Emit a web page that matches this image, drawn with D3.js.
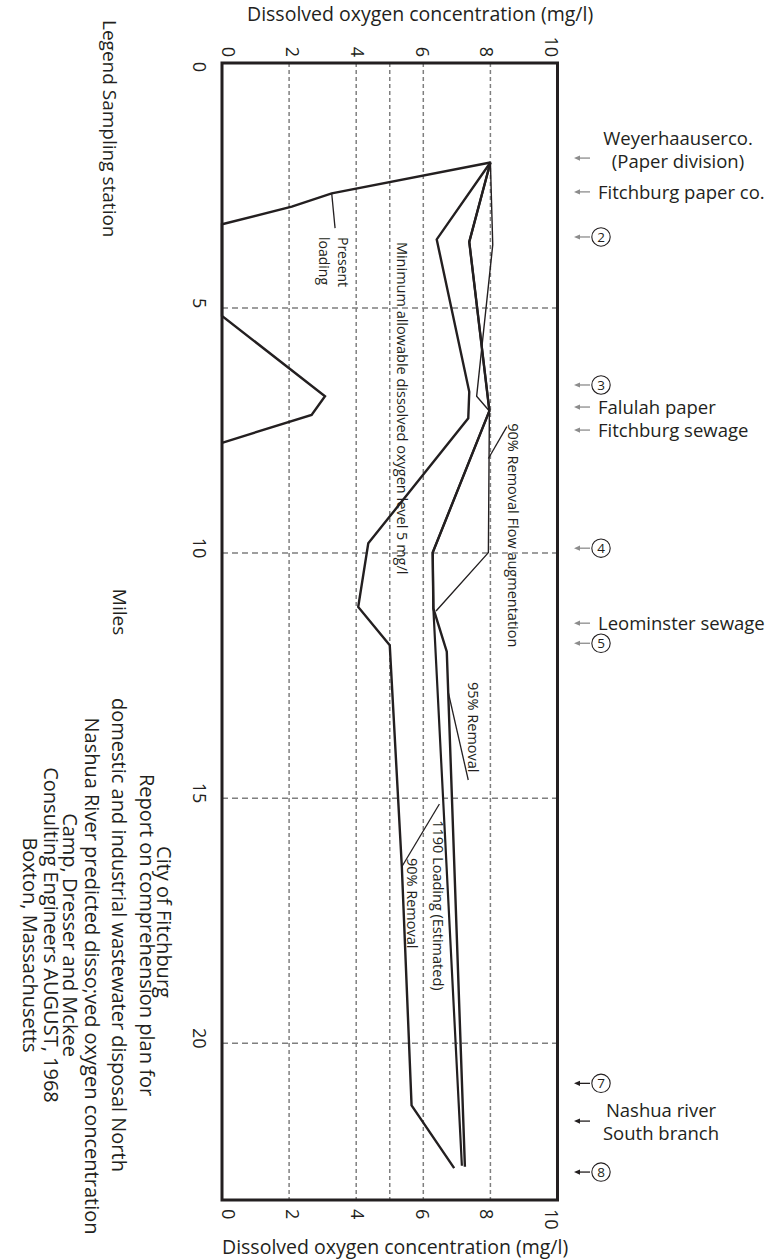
<!DOCTYPE html>
<html>
<head>
<meta charset="utf-8">
<script src="https://cdn.jsdelivr.net/npm/d3@7"></script>
<style>
  body { margin: 0; background: #fff; }
  svg { display: block; }
  text { font-family: "Open Sans", "Noto Sans", sans-serif; fill: #231f20; }
</style>
</head>
<body>
<svg id="chart" width="778" height="1259"></svg>
<script>
// ---- data ---------------------------------------------------------------
// Dissolved oxygen (mg/l) axis and river-mile axis
const doTicks   = [0, 2, 4, 6, 8, 10];
const doGrid    = [2, 4, 5, 6, 8];
const mileTicks = [0, 5, 10, 15, 20];
const mileGrid  = [5, 10, 15, 20];

// profiles as [mile, dissolved oxygen mg/l]
const presentLoading = [[2.03, 8.0], [2.66, 3.27], [2.93, 2.08], [3.29, 0], [5.16, 0],
                        [6.80, 3.07], [7.18, 2.67], [7.75, 0]];
const removal90 = [[2.03, 8.0], [3.60, 6.40], [6.71, 7.37], [7.25, 7.34], [9.80, 4.36],
                   [11.10, 4.06], [11.88, 5.0], [16.40, 5.36], [21.27, 5.65], [22.55, 6.92]];
const removal95 = [[2.03, 8.0], [3.65, 7.37], [7.10, 7.97], [9.99, 6.28],
                   [11.13, 6.30], [12.01, 6.70], [22.52, 7.24]];
const loading1190 = [[2.03, 8.0], [3.65, 7.37], [7.10, 7.97], [9.99, 6.28],
                     [11.13, 6.30], [22.50, 7.15]];
const flowAugmentation = [[2.03, 8.0], [3.71, 8.07], [6.80, 7.59], [7.10, 7.97],
                          [9.99, 7.94], [11.18, 6.38]];

// sampling stations and discharges along the river
const stationNames = [["Weyerhaauserco.", "(Paper division)"], ["Fitchburg paper co."], ["2"],
                      ["3"], ["Falulah paper"], ["Fitchburg sewage"], ["4"],
                      ["Leominster sewage"], ["5"], ["7"], ["Nashua river", "South branch"], ["8"]];
const stationMiles = [1.94, 2.63, 3.55, 6.57, 7.02, 7.49, 9.90, 11.43, 11.84, 20.82, 21.59, 22.63];
const stationNumbered = [false, false, true, true, false, false, true, false, true, true, false, true];

const axisTitle = "Dissolved oxygen concentration (mg/l)";
const reportLines = ["City of Fitchburg",
  "Report on comprehension plan for",
  "domestic and industrial wastewater disposal North",
  "Nashua River predicted disso;ved oxygen concentration",
  "Camp, Dresser and Mckee",
  "Consulting Engineers AUGUST, 1968",
  "Boxton, Massachusetts"];

// ---- layout -------------------------------------------------------------
const svg = d3.select("#chart");
const ink = "#231f20", gridGrey = "#7f7f7f";

const x = d3.scaleLinear().domain([0, 10]).range([222, 557.5]);   // mg/l, left to right
const y = d3.scaleLinear().domain([0, 23.2]).range([63, 1200]);   // miles, top to bottom
const xLabel = x.copy().range([x(0) + 6, x(10) - 6]);

// text turned a quarter-turn clockwise; bx = baseline side, py = along the reading direction
function turned(g, bx, py, str, size, anchor) {
  return g.append("text")
    .attr("transform", `translate(${bx},${py}) rotate(90)`)
    .attr("text-anchor", anchor || "start")
    .style("font-size", size + "px")
    .text(str);
}

// grid
const grid = svg.append("g");
grid.selectAll("line.v").data(doGrid).join("line")
  .attr("x1", d => x(d)).attr("x2", d => x(d))
  .attr("y1", y(0)).attr("y2", y(23.2))
  .attr("stroke", gridGrey).attr("stroke-width", 1.5).attr("stroke-dasharray", "4,3");
grid.selectAll("line.h").data(mileGrid).join("line")
  .attr("x1", x(0)).attr("x2", x(10))
  .attr("y1", d => y(d)).attr("y2", d => y(d))
  .attr("stroke", gridGrey).attr("stroke-width", 1.5).attr("stroke-dasharray", "6,4");

// profiles
const path = d3.line().x(d => x(d[1])).y(d => y(d[0]));
const profiles = [
  { pts: presentLoading, w: 2.4 },
  { pts: removal90, w: 2.4 },
  { pts: removal95, w: 2.4 },
  { pts: loading1190, w: 2.2 },
  { pts: flowAugmentation, w: 1.4 }
];
svg.append("g").selectAll("path").data(profiles).join("path")
  .attr("d", d => path(d.pts))
  .attr("fill", "none").attr("stroke", ink)
  .attr("stroke-width", d => d.w).attr("stroke-linejoin", "miter");

// leader lines from curve labels, [mile, mg/l] pairs
const leaders = [
  [[2.66, 3.27], [3.37, 3.37]],
  [[8.07, 7.94], [7.42, 8.49]],
  [[12.86, 6.75], [14.63, 7.34]],
  [[15.12, 6.48], [16.40, 5.36]]
];
svg.append("g").selectAll("path").data(leaders).join("path")
  .attr("d", d => path(d)).attr("fill", "none")
  .attr("stroke", ink).attr("stroke-width", 1.3);

// frame
svg.append("rect")
  .attr("x", x(0)).attr("y", y(0))
  .attr("width", x(10) - x(0)).attr("height", y(23.2) - y(0))
  .attr("fill", "none").attr("stroke", ink).attr("stroke-width", 3);

// curve labels
const notes = svg.append("g");
turned(notes, x(5) + 7, y(3.65), "Minimum allowable dissolved oxygen level 5 mg/l", 14.5);
turned(notes, x(8) + 17.5, y(7.35), "90% Removal Flow augmentation", 14.5);
turned(notes, x(7.34), y(12.63), "95% Removal", 14.5);
turned(notes, x(6.3), y(15.45), "1190 Loading (Estimated)", 14.5);
turned(notes, x(5.5), y(16.22), "90% Removal", 14.5);
turned(notes, x(3.45), y(3.55), "Present", 14);
turned(notes, x(2.9), y(3.55), "loading", 14);

// oxygen tick labels, top and bottom
const tickSize = 18;
svg.append("g").selectAll("text").data(doTicks).join("text")
  .attr("transform", d => `translate(${xLabel(d)},57) rotate(90)`)
  .attr("text-anchor", "end").attr("dy", "0.36em")
  .style("font-size", tickSize + "px").text(d => d);
svg.append("g").selectAll("text").data(doTicks).join("text")
  .attr("transform", d => `translate(${xLabel(d)},1209) rotate(90)`)
  .attr("text-anchor", "start").attr("dy", "0.36em")
  .style("font-size", tickSize + "px").text(d => d);

// mile tick labels
svg.append("g").selectAll("text").data(mileTicks).join("text")
  .attr("transform", d => `translate(199,${d === 0 ? y(d) + 4 : y(d) - 5}) rotate(90)`)
  .attr("text-anchor", "middle").attr("dy", "0.36em")
  .style("font-size", tickSize + "px").text(d => d);

// axis titles
svg.append("text").attr("x", 247).attr("y", 21)
  .style("font-size", "19.5px").text(axisTitle);
svg.append("text").attr("x", 222).attr("y", 1254)
  .style("font-size", "19.5px").text(axisTitle);
turned(svg, 113, 612, "Miles", 19, "middle");
turned(svg, 103, 20, "Legend Sampling station", 19);

// report block
const reportBase = [157, 140, 112, 85, 63, 44, 23];
const reportMid  = [922, 935, 935, 976, 935, 935, 945];
reportLines.forEach((s, i) => turned(svg, reportBase[i], reportMid[i], s, 20, "middle"));

// sampling stations
const st = svg.append("g");
stationNames.forEach((lines, i) => {
  const sy = y(stationMiles[i]);
  const dark = i >= 9;
  const col = dark ? ink : "#8c8c8c";
  st.append("path")
    .attr("d", `M574,${sy} l6,-2.6 l0,5.2 Z`).attr("fill", col);
  st.append("line").attr("x1", 579).attr("x2", 590).attr("y1", sy).attr("y2", sy)
    .attr("stroke", col).attr("stroke-width", 1.3);
  if (stationNumbered[i]) {
    st.append("circle").attr("cx", 601).attr("cy", sy).attr("r", 9.2)
      .attr("fill", "none").attr("stroke", ink).attr("stroke-width", 1.1);
    st.append("text").attr("x", 601).attr("y", sy).attr("dy", "0.36em")
      .attr("text-anchor", "middle").style("font-size", "13.5px").text(lines[0]);
  } else if (lines.length === 2) {
    const first = i === 0;
    const cx = first ? 678 : 661;
    const offs = first ? [-19.5, 3.5] : [-11, 12];
    lines.forEach((s, k) => st.append("text")
      .attr("x", cx).attr("y", sy + offs[k]).attr("dy", "0.36em")
      .attr("text-anchor", "middle").style("font-size", "18.5px").text(s));
  } else {
    st.append("text").attr("x", 598).attr("y", sy).attr("dy", "0.36em")
      .style("font-size", "18.5px").text(lines[0]);
  }
});
</script>
</body>
</html>
